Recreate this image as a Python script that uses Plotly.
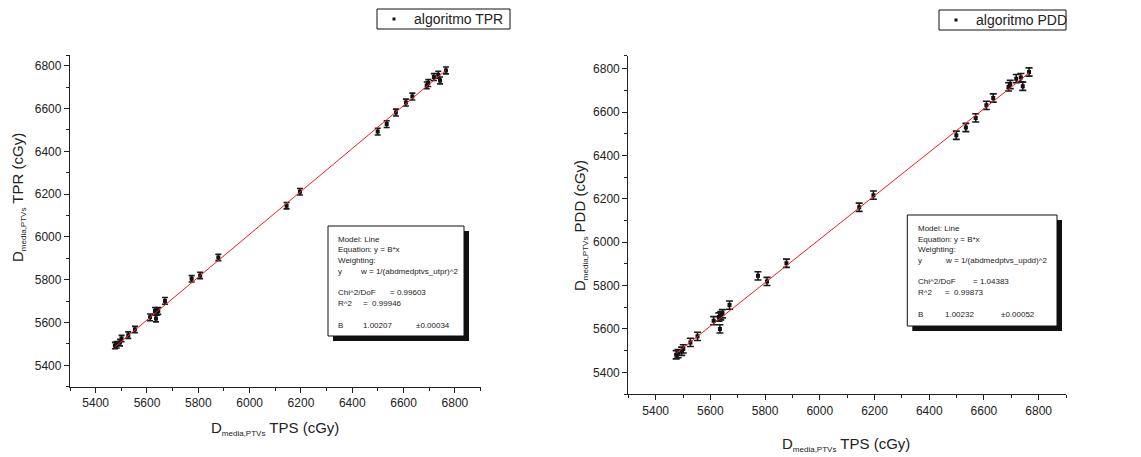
import plotly.graph_objects as go

W, H = 1141, 457

# Mean PTV dose from the planning system (cGy) - abscissa shared by both panels
tps = [5475, 5482, 5495, 5501, 5527, 5553, 5612, 5631, 5635, 5638, 5644, 5670,
       5774, 5807, 5878, 6144, 6196, 6499, 6534, 6570, 6609, 6634, 6690, 6696,
       6718, 6735, 6742, 6765]

# Mean PTV dose computed with the TPR algorithm (cGy) and its uncertainty
tpr = [5492, 5496, 5506, 5525, 5541, 5567, 5624, 5654, 5619, 5650, 5654, 5701,
       5804, 5820, 5904, 6146, 6211, 6492, 6527, 6581, 6628, 6656, 6708, 6719,
       6747, 6758, 6731, 6778]
tpr_err = [15, 15, 15, 15, 15, 15, 16, 16, 16, 16, 16, 16,
           15, 15, 15, 15, 15, 16, 16, 16, 16, 16, 16, 16,
           16, 16, 16, 16]

# Mean PTV dose computed with the PDD algorithm (cGy) and its uncertainty
pdd = [5481, 5486, 5497, 5508, 5538, 5566, 5638, 5655, 5600, 5661, 5670, 5710,
       5845, 5819, 5903, 6161, 6217, 6493, 6529, 6573, 6631, 6665, 6716, 6727,
       6754, 6759, 6719, 6785]
pdd_err = [19, 19, 19, 19, 19, 19, 19, 19, 19, 19, 19, 19,
           19, 19, 19, 19, 19, 19, 19, 19, 19, 19, 19, 19,
           19, 19, 19, 19]

# Linear fits through the origin, y = B*x
fit_tpr = dict(B=1.00207, dB=0.00034, chi="0.99603", r2="0.99946",
               w="w = 1/(abdmedptvs_utpr)^2")
fit_pdd = dict(B=1.00232, dB=0.00052, chi="1.04383", r2="0.99873",
               w="w = 1/(abdmedptvs_updd)^2")

major_ticks = [5400, 5600, 5800, 6000, 6200, 6400, 6600, 6800]
minor_ticks = [5300, 5500, 5700, 5900, 6100, 6300, 6500, 6700]

FONT = "Liberation Sans, Arial, sans-serif"
INK = "#222222"


def fx(p):
    return p / W


def fy(p):
    return 1 - p / H


fig = go.Figure()

for i, (yv, ye, fit) in enumerate([(tpr, tpr_err, fit_tpr), (pdd, pdd_err, fit_pdd)]):
    xa = "x" if i == 0 else "x2"
    ya = "y" if i == 0 else "y2"
    fig.add_trace(go.Scatter(
        x=tps, y=yv, mode="markers", xaxis=xa, yaxis=ya, showlegend=False,
        marker=dict(symbol="square", size=4, color="#111111"),
        error_y=dict(type="data", array=ye, visible=True, color="#1a1a1a",
                     thickness=1.6, width=3 if i == 0 else 3.5),
    ))
    x_line = [min(tps), max(tps)]
    fig.add_trace(go.Scatter(
        x=x_line, y=[fit["B"] * v for v in x_line], mode="lines",
        xaxis=xa, yaxis=ya, showlegend=False,
        line=dict(color="#ee1c25", width=1),
    ))


def axis_style(domain, rng, anchor, minor_vals):
    return dict(
        domain=domain, range=rng, anchor=anchor,
        showline=True, linecolor=INK, linewidth=1.3, mirror=False,
        showgrid=False, zeroline=False,
        ticks="outside", ticklen=5, tickwidth=1.1, tickcolor=INK,
        tickmode="array", tickvals=major_ticks,
        tickfont=dict(family=FONT, size=12, color=INK),
        minor=dict(tickmode="array", tickvals=minor_vals, ticks="outside",
                   ticklen=3, tickwidth=1.1, tickcolor=INK),
    )


fig.update_layout(
    width=W, height=H, margin=dict(l=0, r=0, t=0, b=0),
    paper_bgcolor="white", plot_bgcolor="white",
    xaxis=axis_style([fx(70), fx(480.6)], [5300, 6900], "y", minor_ticks + [6900]),
    yaxis=axis_style([fy(386.7), fy(55)], [5300, 6850], "x", minor_ticks + [6850]),
    xaxis2=axis_style([fx(628.3), fx(1066)], [5300, 6900], "y2", minor_ticks + [6900]),
    yaxis2=axis_style([fy(394), fy(55.7)], [5300, 6860], "x2", minor_ticks + [6860]),
)

shapes = []
annotations = []


def text(x, y, s, size=8, angle=0, xanchor="left", color=INK):
    annotations.append(dict(
        x=fx(x), y=fy(y), xref="paper", yref="paper", text=s, showarrow=False,
        xanchor=xanchor, yanchor="middle", textangle=angle,
        font=dict(family=FONT, size=size, color=color),
    ))


def rect(x0, y0, x1, y1, fill, line_w=1):
    shapes.append(dict(
        type="rect", xref="paper", yref="paper",
        x0=fx(x0), x1=fx(x1), y0=fy(y1), y1=fy(y0),
        fillcolor=fill, line=dict(color="#111111", width=line_w),
        layer="above",
    ))


# Axis titles
sub = "<span style='font-size:8px'>media,PTVs</span>"
text(275, 428, f"D<sub>{sub}</sub> TPS (cGy)", size=15, xanchor="center")
text(846, 444, f"D<sub>{sub}</sub> TPS (cGy)", size=15, xanchor="center")
text(18, 198, f"D<sub>{sub}</sub> TPR (cGy)", size=15, angle=-90, xanchor="center")
text(580, 226, f"D<sub>{sub}</sub> PDD (cGy)", size=15, angle=-90, xanchor="center")

# Legend boxes
for (bx0, by0, bx1, by1, mx, tx, label) in [
    (377, 9, 510, 29, 394, 412, "algoritmo TPR"),
    (939, 10, 1066, 30, 956, 974, "algoritmo PDD"),
]:
    rect(bx0, by0, bx1, by1, "white")
    shapes.append(dict(type="rect", xref="paper", yref="paper",
                       x0=fx(mx - 1.5), x1=fx(mx + 1.5),
                       y0=fy((by0 + by1) / 2 + 1.5), y1=fy((by0 + by1) / 2 - 1.5),
                       fillcolor="#111111", line=dict(width=0), layer="above"))
    text(tx, (by0 + by1) / 2, label, size=14)

# Fit result panels with drop shadow
for (bx0, by0, bx1, by1, dx, fit) in [
    (328, 226, 464, 336, [7.5, 30, 60, 33, 86], fit_tpr),
    (907.3, 215, 1057, 326, [8.5, 36, 64, 36, 92], fit_pdd),
]:
    shapes.append(dict(type="rect", xref="paper", yref="paper",
                       x0=fx(bx0 + 5), x1=fx(bx1 + 5), y0=fy(by1 + 5), y1=fy(by0 + 5),
                       fillcolor="#111111", line=dict(width=0), layer="above"))
    rect(bx0, by0, bx1, by1, "white")
    t0, tw, tchi, tr, tpm = [bx0 + d for d in dx]
    rows = [by0 + r for r in (13.5, 24, 34.5, 45, 66, 77.5, 99)]
    text(t0, rows[0], "Model: Line")
    text(t0, rows[1], "Equation: y = B*x")
    text(t0, rows[2], "Weighting:")
    text(t0, rows[3], "y")
    text(tw, rows[3], fit["w"])
    text(t0, rows[4], "Chi^2/DoF")
    text(tchi, rows[4], f"= {fit['chi']}")
    text(t0, rows[5], "R^2")
    text(tr, rows[5], f"=  {fit['r2']}")
    text(t0, rows[6], "B")
    text(tr, rows[6], f"{fit['B']:.5f}")
    text(tpm, rows[6], f"±{fit['dB']:.5f}")

fig.update_layout(shapes=shapes, annotations=annotations)

fig.write_html("out.html")
